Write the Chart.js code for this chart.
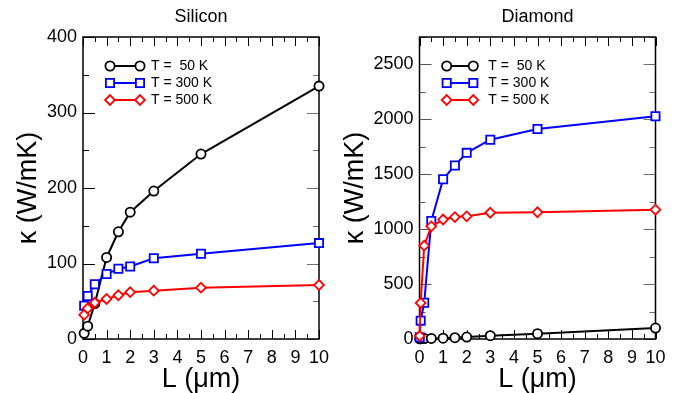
<!DOCTYPE html>
<html><head><meta charset="utf-8">
<script src="https://cdn.jsdelivr.net/npm/chart.js@4.4.0/dist/chart.umd.min.js"></script>
<style>
body{margin:0;background:#fff;width:693px;height:393px;overflow:hidden;position:relative}
canvas{position:absolute;top:0}
#c1{left:0}
#c2{left:340px}
</style></head><body>
<canvas id="c1" width="340" height="393"></canvas>
<canvas id="c2" width="353" height="393"></canvas>
<script>
// ---- data ----
const seriesLabels = ['T =  50 K', 'T = 300 K', 'T = 500 K'];
const siliconL = [0.05, 0.2, 0.5, 1, 1.5, 2, 3, 5, 10];
const siliconT50 = [7.5, 17, 47, 108, 142, 168, 196, 245, 335];
const siliconT300 = [44, 57, 72.5, 86, 93, 96, 107, 113, 127];
const siliconT500 = [32, 40.5, 48, 53, 58, 62, 64, 68, 71.5];
const diamondL = [0.01, 0.05, 0.2, 0.5, 1, 1.5, 2, 3, 5, 10];
const diamondT50 = [2, 3, 4, 5, 7, 12, 18, 30, 48, 100];
const diamondT300 = [15, 167, 330, 1075, 1455, 1580, 1695, 1815, 1912, 2028];
const diamondT500 = [28, 328, 850, 1026, 1088, 1110, 1117, 1150, 1154, 1178];
const xTickLabels = ['0','1','2','3','4','5','6','7','8','9','10'];

const colors = ['#000000', '#0000ff', '#ff0000'];
const styles = ['circle', 'rect', 'rectRot'];
const radii = [4.6, 5.8, 4.9];

function pts(xs, ys) { return xs.map((x, i) => ({x: x, y: ys[i]})); }

function drawMarker(ctx, style, r, x, y) {
  ctx.beginPath();
  if (style === 'circle') {
    ctx.arc(x, y, r, 0, Math.PI * 2);
  } else if (style === 'rect') {
    const s = r * Math.SQRT1_2;
    ctx.rect(x - s, y - s, 2 * s, 2 * s);
  } else {
    ctx.moveTo(x - r, y); ctx.lineTo(x, y - r); ctx.lineTo(x + r, y); ctx.lineTo(x, y + r); ctx.closePath();
  }
  ctx.fill();
  ctx.stroke();
}

const frameTicks = {
  id: 'frameTicks',
  beforeDatasetsDraw(chart, args, opts) {
    const {ctx, chartArea: a} = chart;
    const x = chart.scales.x, y = chart.scales.y;
    ctx.save();
    ctx.lineWidth = 1;
    const line = (x1, y1, x2, y2) => { ctx.beginPath(); ctx.moveTo(x1, y1); ctx.lineTo(x2, y2); ctx.stroke(); };
    x.ticks.forEach(t => {
      const px = Math.round(x.getPixelForValue(t.value)) + 0.5;
      const len = Number.isInteger(t.value) ? 9 : 5;
      ctx.strokeStyle = '#000';
      line(px, a.bottom, px, a.bottom - len);
      line(px, a.top, px, a.top + len);
    });
    y.ticks.forEach(t => {
      const py = Math.round(y.getPixelForValue(t.value)) + 0.5;
      const len = (t.value % opts.yMajor === 0) ? 12 : 6;
      ctx.strokeStyle = opts.leftColor;
      line(a.left, py, a.left + len, py);
      ctx.strokeStyle = opts.rightColor;
      line(a.right, py, a.right - len, py);
    });
    ctx.strokeStyle = '#000';
    ctx.lineWidth = 1.5;
    ctx.strokeRect(a.left, a.top, a.right - a.left, a.bottom - a.top);
    ctx.restore();
  },
  afterDraw(chart, args, opts) {
    const ctx = chart.ctx;
    const lg = opts.legend;
    ctx.save();
    chart.data.datasets.forEach((ds, i) => {
      const yy = lg.ys[i];
      ctx.strokeStyle = ds.borderColor;
      ctx.lineWidth = 2;
      ctx.beginPath(); ctx.moveTo(lg.x1, yy); ctx.lineTo(lg.x2, yy); ctx.stroke();
      ctx.fillStyle = '#fff';
      ctx.lineWidth = 1.8;
      drawMarker(ctx, ds.pointStyle, ds.pointRadius, lg.x1, yy);
      drawMarker(ctx, ds.pointStyle, ds.pointRadius, lg.x2, yy);
      ctx.fillStyle = '#000';
      ctx.font = '14px "Liberation Sans", Arial, sans-serif';
      ctx.textBaseline = 'middle';
      ctx.textAlign = 'left';
      ctx.fillText(ds.label, lg.tx, yy + 0.5);
    });
    ctx.restore();
  }
};

function makeChart(id, cfg) {
  const font = '"Liberation Sans", Arial, sans-serif';
  const datasets = cfg.series.map((ys, i) => ({
    label: seriesLabels[i],
    data: pts(cfg.xs, ys),
    showLine: true,
    clip: false,
    borderColor: colors[i],
    backgroundColor: '#ffffff',
    pointBackgroundColor: '#ffffff',
    pointBorderColor: colors[i],
    pointStyle: styles[i],
    pointRadius: radii[i],
    pointBorderWidth: 1.8,
    borderWidth: 2,
    order: 2 - i
  }));
  return new Chart(document.getElementById(id), {
    type: 'scatter',
    data: {datasets: datasets},
    plugins: [frameTicks],
    options: {
      responsive: false,
      animation: false,
      layout: {padding: {left: 0, top: 0, right: cfg.padRight, bottom: 0}},
      plugins: {
        legend: {display: false},
        tooltip: {enabled: false},
        title: {
          display: true, text: cfg.title, fullSize: false, color: '#000',
          font: {family: font, size: 18, weight: 'normal', lineHeight: 1.2},
          padding: {top: 6, bottom: 9.4}
        },
        frameTicks: {yMajor: cfg.yMajor, leftColor: cfg.leftTickColor, rightColor: '#707070', legend: cfg.legend}
      },
      scales: {
        x: {
          type: 'linear', min: 0, max: 10,
          afterFit: s => { s.height = 54; },
          ticks: {
            stepSize: 0.5, autoSkip: false, maxRotation: 0, color: '#000', padding: 8,
            font: {family: font, size: 18},
            callback: v => Number.isInteger(v) ? xTickLabels[v] : ''
          },
          grid: {drawOnChartArea: false, drawTicks: false, display: false},
          border: {display: false},
          title: {display: true, text: 'L (μm)', color: '#000', font: {family: font, size: 27, lineHeight: 1}, padding: {top: 0, bottom: 0}}
        },
        y: {
          type: 'linear', min: 0, max: cfg.yMax,
          afterFit: s => { s.width = cfg.yWidth; },
          ticks: {
            stepSize: cfg.yStep, autoSkip: false, color: '#000', padding: 6,
            font: {family: font, size: 18},
            callback: v => (v % cfg.yMajor === 0) ? String(v) : ''
          },
          grid: {drawOnChartArea: false, drawTicks: false, display: false},
          border: {display: false},
          title: {display: true, text: 'κ (W/mK)', color: '#000', font: {family: font, size: 27, lineHeight: 1}, padding: {top: cfg.yTitlePad, bottom: 0}}
        }
      }
    }
  });
}

makeChart('c1', {
  title: 'Silicon', xs: siliconL, series: [siliconT50, siliconT300, siliconT500],
  yMax: 400, yStep: 50, yMajor: 100, yWidth: 83, padRight: 21, yTitlePad: 15.5,
  leftTickColor: '#000',
  legend: {x1: 110, x2: 140, tx: 151, ys: [66, 83, 100]}
});
makeChart('c2', {
  title: 'Diamond', xs: diamondL, series: [diamondT50, diamondT300, diamondT500],
  yMax: 2750, yStep: 250, yMajor: 500, yWidth: 79.5, padRight: 37.5, yTitlePad: 2.5,
  leftTickColor: '#555',
  legend: {x1: 106.7, x2: 133.3, tx: 148.3, ys: [66, 83, 100]}
});
</script>
</body></html>
